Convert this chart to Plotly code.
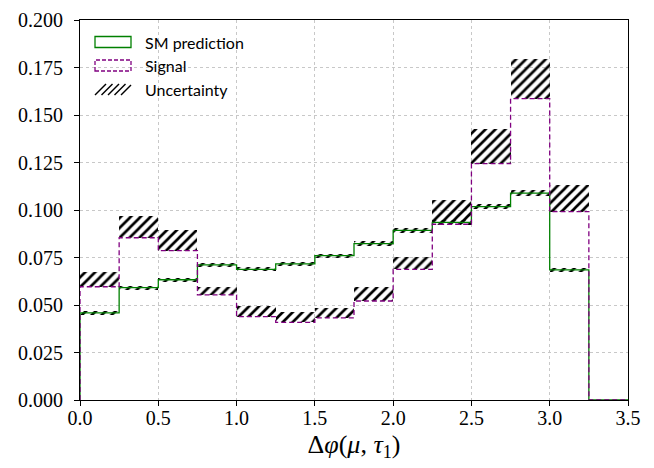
import plotly.graph_objects as go

# ---- data ----
bin_edges = [0.0, 0.25, 0.5, 0.75, 1.0, 1.25, 1.5, 1.75, 2.0, 2.25, 2.5, 2.75, 3.0, 3.25, 3.5]
sm_values = [0.0459, 0.0591, 0.0633, 0.0711, 0.0688, 0.0716, 0.0760, 0.0823,
             0.0893, 0.0935, 0.1018, 0.1089, 0.0685, 0.0]
sm_err = [0.0009, 0.0010, 0.0010, 0.0011, 0.0010, 0.0011, 0.0011, 0.0012,
          0.0012, 0.0013, 0.0013, 0.0014, 0.0010, 0.0]
sig_values = [0.0596, 0.0854, 0.0786, 0.0553, 0.0439, 0.0409, 0.0432, 0.0521,
              0.0688, 0.0925, 0.1244, 0.1586, 0.0991, 0.0]
sig_err = [0.0079, 0.0114, 0.0109, 0.0043, 0.0056, 0.0056, 0.0054, 0.0072,
           0.0067, 0.0128, 0.0181, 0.0207, 0.0141, 0.0]
x_ticks = [0.0, 0.5, 1.0, 1.5, 2.0, 2.5, 3.0, 3.5]
y_ticks = [0.0, 0.025, 0.05, 0.075, 0.1, 0.125, 0.15, 0.175, 0.2]
legend_labels = ["SM prediction", "Signal", "Uncertainty"]

GREEN = "#008000"
PURPLE = "#800080"
SERIF = "Liberation Serif"

centers = [(a + b) / 2 for a, b in zip(bin_edges[:-1], bin_edges[1:])]
widths = [b - a for a, b in zip(bin_edges[:-1], bin_edges[1:])]


def step_xy(vals):
    xs = [bin_edges[0]] + bin_edges[:-1] + [bin_edges[-1], bin_edges[-1]]
    ys = [0.0] + list(vals) + [vals[-1], 0.0]
    return xs, ys


fig = go.Figure()

pattern = dict(shape="/", fgcolor="black", fgopacity=1, bgcolor="rgba(0,0,0,0)", size=7, solidity=0.38)

# uncertainty bands
fig.add_trace(go.Bar(
    x=centers, base=[v - e for v, e in zip(sm_values, sm_err)],
    y=[2 * e for e in sm_err], width=widths,
    marker=dict(color="rgba(0,0,0,0)", line=dict(width=0), pattern=pattern),
    showlegend=False, hoverinfo="skip"))
fig.add_trace(go.Bar(
    x=centers, base=sig_values, y=sig_err, width=widths,
    marker=dict(color="rgba(0,0,0,0)", line=dict(width=0), pattern=pattern),
    showlegend=False, hoverinfo="skip"))

# step histograms
sx, sy = step_xy(sm_values)
fig.add_trace(go.Scatter(x=sx, y=sy, mode="lines", line=dict(color=GREEN, width=1.3, shape="hv"),
                         showlegend=False))
px_, py_ = step_xy(sig_values)
fig.add_trace(go.Scatter(x=px_, y=py_, mode="lines",
                         line=dict(color=PURPLE, width=1.3, shape="hv", dash="5px,3px"),
                         showlegend=False))

# ---- layout geometry (page has an 8px body margin) ----
OFF = 8
W, H = 654 - OFF, 468 - OFF
L, R, T, B = 80, 628, 20, 400  # target plot area in screenshot pixels


def X(p):
    return (p - L) / (R - L) * 3.5


def Y(p):
    return (B - p) / (B - T) * 0.2


shapes = [
    dict(type="rect", xref="x", yref="y", x0=X(95), x1=X(131), y0=Y(47.5), y1=Y(36.5),
         line=dict(color=GREEN, width=1.3), fillcolor="rgba(0,0,0,0)"),
    dict(type="rect", xref="x", yref="y", x0=X(95), x1=X(131), y0=Y(71), y1=Y(60),
         line=dict(color=PURPLE, width=1.3, dash="4px,2px"), fillcolor="rgba(0,0,0,0)"),
]
for k in range(5):
    xs0 = 95 + k * 6.5
    xs1 = min(xs0 + 11, 131)
    ye = 95 - (xs1 - xs0)
    shapes.append(dict(type="line", xref="x", yref="y", x0=X(xs0), y0=Y(95), x1=X(xs1), y1=Y(ye),
                       line=dict(color="black", width=1.5)))

annotations = []
for lab, yc in zip(legend_labels, [42, 65.5, 89.5]):
    annotations.append(dict(text=lab, x=X(143), y=Y(yc), xref="x", yref="y", xanchor="left",
                            yanchor="middle", showarrow=False,
                            font=dict(family="Lato", size=16, color="black")))

fig.update_layout(
    width=W, height=H,
    margin=dict(l=L - OFF, r=654 - R, t=T - OFF, b=468 - B, autoexpand=False),
    paper_bgcolor="white", plot_bgcolor="white",
    barmode="overlay", bargap=0,
    shapes=shapes, annotations=annotations,
    showlegend=False,
    font=dict(family=SERIF, size=20, color="black"),
)
fig.update_xaxes(
    range=[0, 3.5], tickvals=x_ticks, ticktext=[f"{v:.1f}" for v in x_ticks],
    tickfont=dict(family=SERIF, size=20, color="black"),
    showline=True, linecolor="black", linewidth=1, mirror=True,
    ticks="outside", ticklen=5, tickcolor="black", automargin=False, ticklabelstandoff=-5,
    showgrid=True, gridcolor="#c8c8c8", griddash="dot", gridwidth=0.8, zeroline=False,
    title=dict(text="Δ<i>φ</i>(<i>μ</i>, <i>τ</i><sub>1</sub>)",
               font=dict(family=SERIF, size=26, color="black"), standoff=6),
)
fig.update_yaxes(
    range=[0, 0.2], tickvals=y_ticks, ticktext=[f"{v:.3f}" for v in y_ticks],
    tickfont=dict(family=SERIF, size=20, color="black"),
    showline=True, linecolor="black", linewidth=1, mirror=True,
    ticks="outside", ticklen=5, tickcolor="black", automargin=False, ticklabelstandoff=7,
    showgrid=True, gridcolor="#c8c8c8", griddash="dot", gridwidth=0.8, zeroline=False,
)

fig.write_html("out.html")
